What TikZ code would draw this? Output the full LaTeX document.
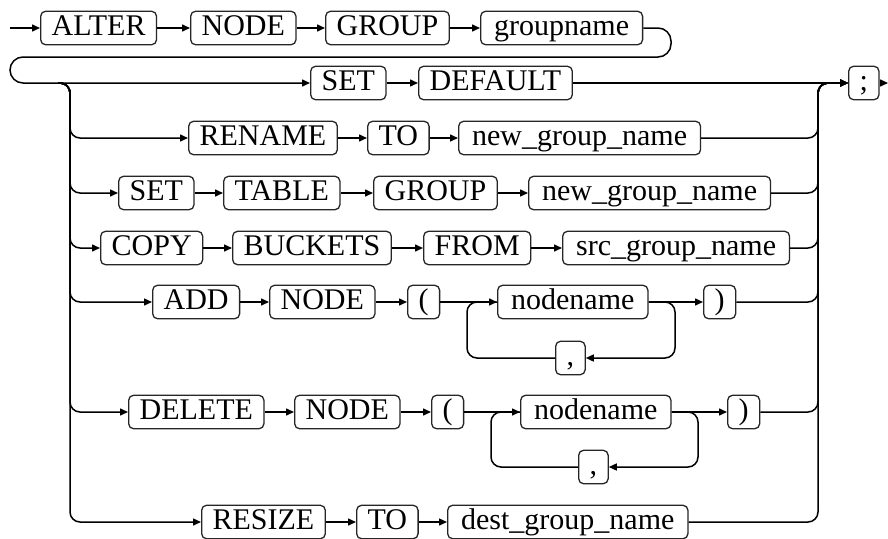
\documentclass[tikz,border=0pt]{standalone}
\usepackage{fontspec}
\setmainfont{Liberation Serif}
\usetikzlibrary{arrows.meta}
\begin{document}
\begin{tikzpicture}[x=1pt, y=-1pt, every node/.style={align=center}]
\tikzset{
  keyword/.style={draw=black!85, line width=1.3pt, rounded corners=5pt, anchor=west, font=\fontsize{30}{32}\selectfont, text height=21.5pt, text depth=7pt, inner xsep=11pt, inner ysep=2.5pt},
  ident/.style={keyword, inner xsep=13.5pt},
  link/.style={line width=1.5pt, rounded corners=10pt},
  flow/.style={link, -{Triangle[length=8pt, width=7pt]}}
}
\useasboundingbox (0,0) rectangle (888,538);

\node[keyword] (alter) at (40,28) {ALTER};
\node[keyword] (nodeKw) at (190,28) {NODE};
\node[keyword] (groupKw) at (325,28) {GROUP};
\node[ident] (groupname) at (480,28) {groupname};

\node[keyword] (setKw) at (310,83) {SET};
\node[keyword] (defaultKw) at (418,83) {DEFAULT};
\node[keyword] (semicolon) at (848,83) {;};

\node[keyword] (renameKw) at (188,138) {RENAME};
\node[keyword] (toKw) at (367,138) {TO};
\node[ident] (newName) at (458,138) {new\_group\_name};

\node[keyword] (setTableKw) at (118,193) {SET};
\node[keyword] (tableKw) at (223,193) {TABLE};
\node[keyword] (groupTableKw) at (373,193) {GROUP};
\node[ident] (newTableName) at (528,193) {new\_group\_name};

\node[keyword] (copyKw) at (100,248) {COPY};
\node[keyword] (bucketsKw) at (232,248) {BUCKETS};
\node[keyword] (fromKw) at (423,248) {FROM};
\node[ident] (srcName) at (562,248) {src\_group\_name};

\node[keyword] (addKw) at (152,302) {ADD};
\node[keyword] (addNodeKw) at (269,302) {NODE};
\node[keyword] (addOpen) at (407,302) {(};
\node[ident] (addName) at (497,302) {nodename};
\node[keyword] (addClose) at (703,302) {)};
\node[keyword] (addComma) at (555,358) {,};

\node[keyword] (deleteKw) at (128,412) {DELETE};
\node[keyword] (delNodeKw) at (294,412) {NODE};
\node[keyword] (delOpen) at (431,412) {(};
\node[ident] (delName) at (520,412) {nodename};
\node[keyword] (delClose) at (727,412) {)};
\node[keyword] (delComma) at (578,467) {,};

\node[keyword] (resizeKw) at (201,522) {RESIZE};
\node[keyword] (resizeToKw) at (356,522) {TO};
\node[ident] (destName) at (447,522) {dest\_group\_name};

\coordinate (start) at (10,28);
\coordinate (finish) at (888,83);
\coordinate (split) at (58,83);
\coordinate (busL) at (70,100);
\coordinate (busR) at (818,100);
\coordinate (addLoopL) at (467,330);
\coordinate (addLoopR) at (675,330);
\coordinate (delLoopL) at (491,440);
\coordinate (delLoopR) at (698,440);

\draw[flow] (start) -- (alter);
\draw[flow] (alter) -- (nodeKw);
\draw[flow] (nodeKw) -- (groupKw);
\draw[flow] (groupKw) -- (groupname);
\draw[flow, rounded corners=13pt] (groupname.east) -- (671,28) -- (671,57) -- (10,57) -- (10,83) -- (setKw.west);
\draw[flow] (setKw) -- (defaultKw);
\draw[flow] (defaultKw) -- (semicolon);
\draw[flow] (semicolon) -- (finish);

\foreach \first/\last in {renameKw/newName, setTableKw/newTableName, copyKw/srcName, addKw/addClose, deleteKw/delClose, resizeKw/destName} {
  \draw[flow] (split) -| (busL) |- (\first.west);
  \draw[flow] (\last.east) -| (busR) |- (semicolon.west);
}

\draw[flow] (renameKw) -- (toKw);
\draw[flow] (toKw) -- (newName);
\draw[flow] (setTableKw) -- (tableKw);
\draw[flow] (tableKw) -- (groupTableKw);
\draw[flow] (groupTableKw) -- (newTableName);
\draw[flow] (copyKw) -- (bucketsKw);
\draw[flow] (bucketsKw) -- (fromKw);
\draw[flow] (fromKw) -- (srcName);

\draw[flow] (addKw) -- (addNodeKw);
\draw[flow] (addNodeKw) -- (addOpen);
\draw[flow] (addOpen) -- (addName);
\draw[flow] (addName) -- (addClose);
\draw[flow] (addName.east) -| (addLoopR) |- (addComma.east);
\draw[link] (addComma.west) -| (addLoopL) |- (addName.west);

\draw[flow] (deleteKw) -- (delNodeKw);
\draw[flow] (delNodeKw) -- (delOpen);
\draw[flow] (delOpen) -- (delName);
\draw[flow] (delName) -- (delClose);
\draw[flow] (delName.east) -| (delLoopR) |- (delComma.east);
\draw[link] (delComma.west) -| (delLoopL) |- (delName.west);

\draw[flow] (resizeKw) -- (resizeToKw);
\draw[flow] (resizeToKw) -- (destName);
\end{tikzpicture}
\end{document}
